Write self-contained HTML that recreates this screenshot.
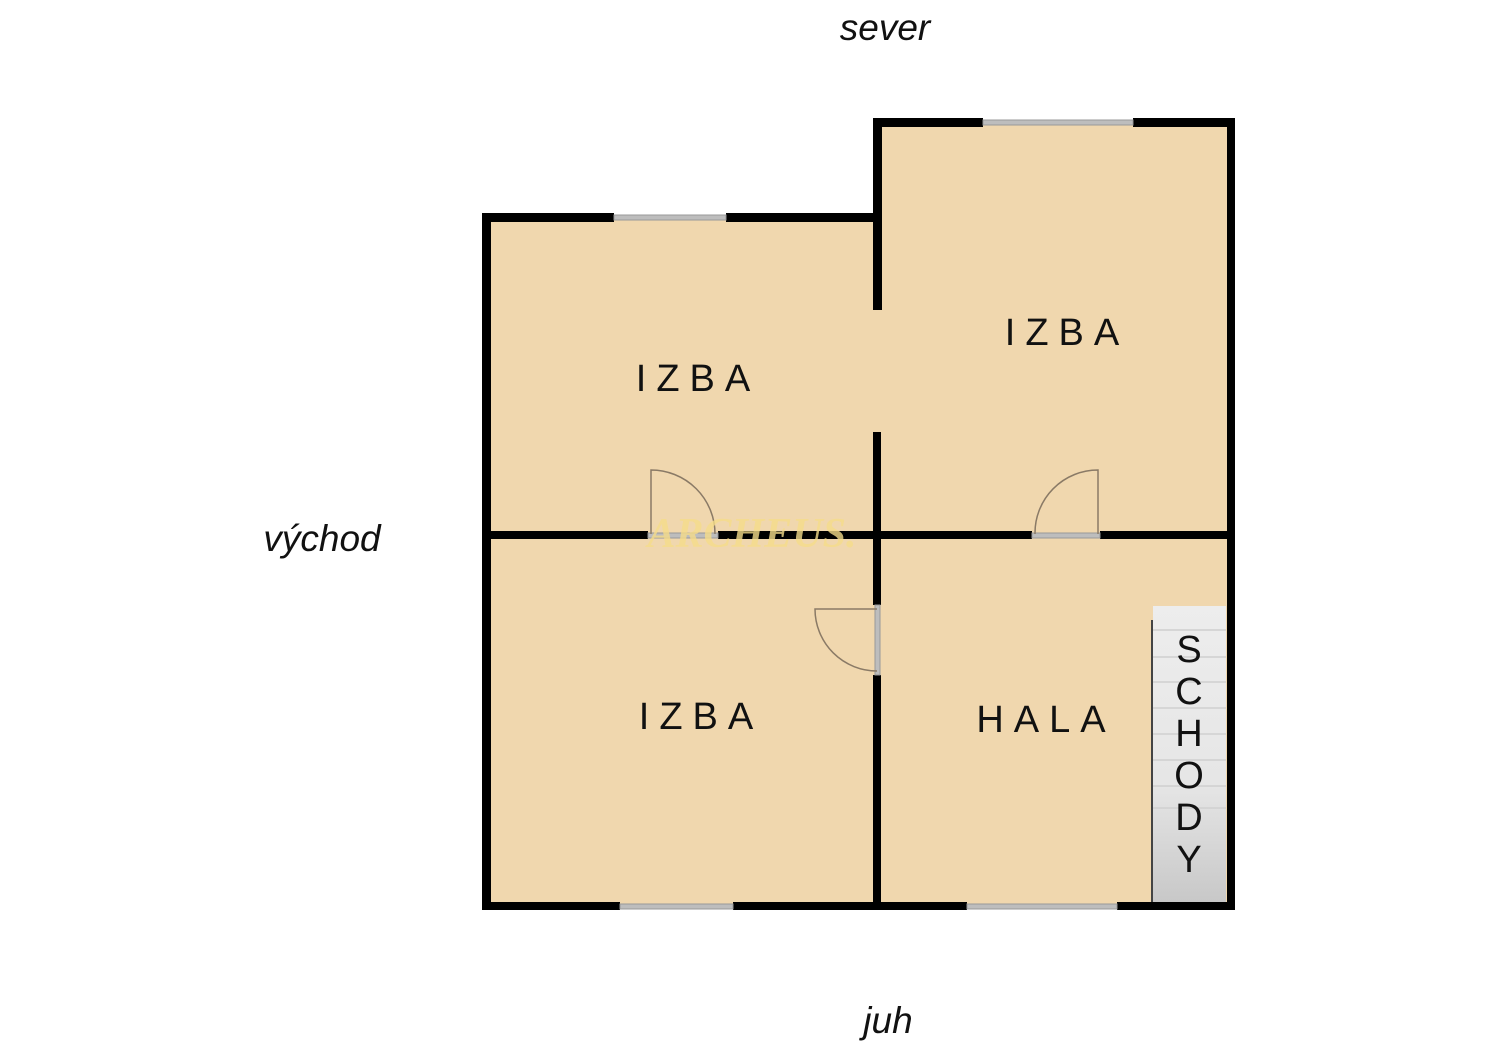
<!DOCTYPE html>
<html><head><meta charset="utf-8"><style>
html,body{margin:0;padding:0;background:#fff;}
svg{display:block;}
</style></head><body>
<svg width="1500" height="1060" viewBox="0 0 1500 1060" xmlns="http://www.w3.org/2000/svg" font-family="Liberation Sans, sans-serif">
<defs>
<linearGradient id="st" x1="0" y1="0" x2="0" y2="1">
<stop offset="0" stop-color="#ededed"/><stop offset="0.6" stop-color="#e6e6e6"/><stop offset="1" stop-color="#c8c8c8"/>
</linearGradient>
</defs>
<polygon points="487,218 878,218 878,123 1231,123 1231,906 487,906" fill="#f0d7ae"/>
<rect x="1153" y="606" width="73" height="296" fill="url(#st)"/>
<g stroke="#cfcfcf" stroke-width="1.5">
<line x1="1153" y1="630" x2="1226" y2="630"/><line x1="1153" y1="657" x2="1226" y2="657"/>
<line x1="1153" y1="682" x2="1226" y2="682"/><line x1="1153" y1="708" x2="1226" y2="708"/>
<line x1="1153" y1="734" x2="1226" y2="734"/><line x1="1153" y1="760" x2="1226" y2="760"/>
<line x1="1153" y1="786" x2="1226" y2="786"/><line x1="1153" y1="808" x2="1226" y2="808"/>
</g>
<line x1="1152" y1="620" x2="1152" y2="902" stroke="#444" stroke-width="2"/>
<g fill="#000">
<rect x="482" y="213" width="9" height="697"/>
<rect x="482" y="213" width="132" height="9"/>
<rect x="726" y="213" width="156" height="9"/>
<rect x="873" y="118" width="9" height="192"/>
<rect x="873" y="118" width="110" height="9"/>
<rect x="1133" y="118" width="102" height="9"/>
<rect x="1227" y="118" width="8" height="792"/>
<rect x="482" y="902" width="138" height="8"/>
<rect x="733" y="902" width="234" height="8"/>
<rect x="1117" y="902" width="118" height="8"/>
<rect x="873" y="432" width="8" height="173"/>
<rect x="873" y="675" width="8" height="235"/>
<rect x="482" y="531" width="166" height="8"/>
<rect x="718" y="531" width="314" height="8"/>
<rect x="1100" y="531" width="135" height="8"/>
</g>
<g fill="#bdbdbd" stroke="#999" stroke-width="1">
<rect x="614" y="215" width="112" height="5"/>
<rect x="983" y="120" width="150" height="5"/>
<rect x="620" y="904" width="113" height="5"/>
<rect x="967" y="904" width="150" height="5"/>
<rect x="648" y="533" width="70" height="5"/>
<rect x="1032" y="533" width="68" height="5"/>
<rect x="875" y="605" width="5" height="70"/>
</g>
<g fill="none" stroke="#8a7a66" stroke-width="1.5">
<path d="M651,534 V470 A64,64 0 0 1 715,534"/>
<path d="M1098,534 V470 A63,63 0 0 0 1035,534"/>
<path d="M877,609 H815 A62,62 0 0 0 877,671"/>
</g>
<text x="752" y="547" font-family="Liberation Serif, serif" font-style="italic" font-weight="bold" font-size="42" fill="#f5dc8a" opacity="0.8" text-anchor="middle">ARCHEUS.</text>
<g font-size="38" fill="#111" letter-spacing="10" text-anchor="middle">
<text x="698" y="391">IZBA</text>
<text x="1067" y="345">IZBA</text>
<text x="701" y="729">IZBA</text>
<text x="1046" y="732">HALA</text>
</g>
<g font-size="38" fill="#111" text-anchor="middle">
<text x="1189" y="662">S</text><text x="1189" y="704">C</text><text x="1189" y="746">H</text>
<text x="1189" y="788">O</text><text x="1189" y="830">D</text><text x="1189" y="872">Y</text>
</g>
<g font-size="37" font-style="italic" fill="#111" text-anchor="middle">
<text x="885" y="40">sever</text>
<text x="322" y="551">východ</text>
<text x="888" y="1033">juh</text>
</g>
</svg>
</body></html>
